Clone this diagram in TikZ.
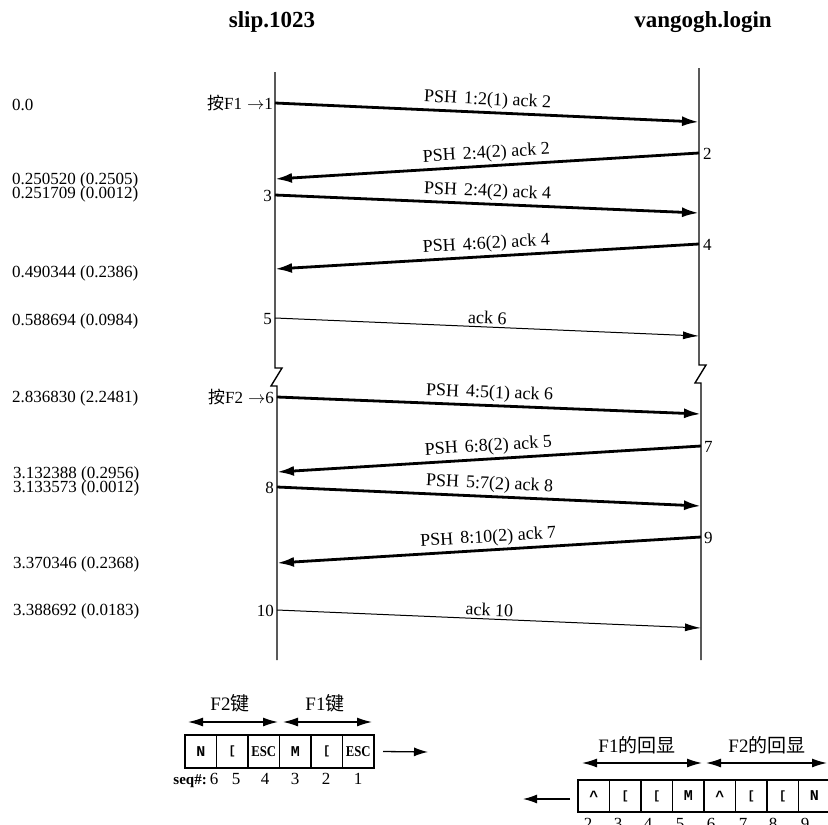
\documentclass[tikz,border=0pt]{standalone}
\usepackage{fontspec}
\usepackage{graphicx}
\setmainfont{Liberation Serif}
\newfontfamily\cjkfont{Noto Sans CJK SC}
\newfontfamily\monofont{Liberation Mono}
\usetikzlibrary{arrows.meta,positioning}
\begin{document}
\begin{tikzpicture}[x=1pt,y=-1pt,
  tline/.style={line width=1.4pt},
  bigmsg/.style={line width=2.8pt,-{Latex[length=17pt,width=10pt]}},
  smallmsg/.style={line width=1pt,-{Latex[length=16pt,width=8pt]}},
  msglab/.style={font=\fontsize{18}{18}\selectfont, sloped, above, inner sep=2.5pt, pos=0.5},
  ts/.style={anchor=base west, font=\fontsize{17}{17}\selectfont, inner sep=0pt},
  evl/.style={anchor=base east, font=\fontsize{17}{17}\selectfont, inner sep=0pt},
  evr/.style={anchor=base west, font=\fontsize{17}{17}\selectfont, inner sep=0pt},
  hdr/.style={font=\fontsize{23}{23}\selectfont\bfseries, inner sep=0pt},
  cell/.style={draw, line width=1.2pt, minimum width=31.5pt, inner sep=0pt, outer sep=0pt, anchor=west},
  cellL/.style={cell, minimum height=33pt},
  cellR/.style={cell, minimum height=32pt},
  esc/.style={font=\fontsize{15}{15}\selectfont\bfseries},
  mono/.style={font=\fontsize{15}{15}\selectfont\monofont\bfseries},
  brk/.style={font=\fontsize{12}{12}\selectfont\monofont\bfseries},
  dbl/.style={line width=1.3pt,{Latex[length=15pt,width=9pt]}-{Latex[length=15pt,width=9pt]}},
  outarr/.style={line width=1.3pt,-{Latex[length=14pt,width=9pt]}},
  blab/.style={font=\fontsize{19}{19}\selectfont, inner sep=0pt},
  bnum/.style={anchor=base, font=\fontsize{17}{17}\selectfont, inner sep=0pt},
]
\useasboundingbox (0,0) rectangle (828,825);
\clip (0,0) rectangle (828,825);

% headers
\node[hdr] (h1) at (272,22) {slip.1023};
\node[hdr] (h2) at (703,22) {vangogh.login};

% timelines
\coordinate (Ltop) at (275,72);
\coordinate (Lbot) at (277,660);
\coordinate (Rtop) at (699,68);
\coordinate (Rbot) at (701,660);
\draw[tline] (Ltop) -- (275,368) -- (282,368) -- (271,386) -- (277,386) -- (Lbot);
\draw[tline] (Rtop) -- (699,365) -- (706,365) -- (695,383) -- (701,383) -- (Rbot);

% event points
\coordinate (e1) at (275,103);  \coordinate (r1) at (699,122);
\coordinate (r2) at (699,153);  \coordinate (l2) at (275,179);
\coordinate (e3) at (275,195);  \coordinate (r3) at (699,213);
\coordinate (r4) at (699,244);  \coordinate (l4) at (275,269);
\coordinate (e5) at (275,318);  \coordinate (r5) at (699,336);
\coordinate (e6) at (277,397);  \coordinate (r6) at (701,414);
\coordinate (r7) at (701,446);  \coordinate (l7) at (277,472);
\coordinate (e8) at (277,487);  \coordinate (r8) at (701,506);
\coordinate (r9) at (701,537);  \coordinate (l9) at (277,563);
\coordinate (e10) at (277,610); \coordinate (r10) at (701,628);

% messages
\draw[bigmsg] (e1) -- node[msglab] (m1) {PSH\hspace{0.4em}1:2(1) ack 2} (r1);
\draw[bigmsg] (r2) -- node[msglab] (m2) {PSH\hspace{0.4em}2:4(2) ack 2} (l2);
\draw[bigmsg] (e3) -- node[msglab] (m3) {PSH\hspace{0.4em}2:4(2) ack 4} (r3);
\draw[bigmsg] (r4) -- node[msglab] (m4) {PSH\hspace{0.4em}4:6(2) ack 4} (l4);
\draw[smallmsg] (e5) -- node[msglab] (m5) {ack 6} (r5);
\draw[bigmsg] (e6) -- node[msglab] (m6) {PSH\hspace{0.4em}4:5(1) ack 6} (r6);
\draw[bigmsg] (r7) -- node[msglab] (m7) {PSH\hspace{0.4em}6:8(2) ack 5} (l7);
\draw[bigmsg] (e8) -- node[msglab] (m8) {PSH\hspace{0.4em}5:7(2) ack 8} (r8);
\draw[bigmsg] (r9) -- node[msglab] (m9) {PSH\hspace{0.4em}8:10(2) ack 7} (l9);
\draw[smallmsg] (e10) -- node[msglab] (m10) {ack 10} (r10);

% event numbers
\node[evl] (n1) at (273,109) {{\cjkfont 按}F1\hspace{5pt}$\rightarrow$1};
\node[evl] (n3) at (272,201) {3};
\node[evl] (n5) at (272,324) {5};
\node[evl] (n6) at (274,403) {{\cjkfont 按}F2\hspace{5pt}$\rightarrow$6};
\node[evl] (n8) at (274,493) {8};
\node[evl] (n10) at (274,616) {10};
\node[evr] (n2) at (703,159) {2};
\node[evr] (n4) at (703,250) {4};
\node[evr] (n7) at (704,452) {7};
\node[evr] (n9) at (704,543) {9};

% timestamps
\node[ts] (t1) at (12,110) {0.0};
\node[ts] (t2) at (12,184) {0.250520 (0.2505)};
\node[ts] (t3) at (12,198.5) {0.251709 (0.0012)};
\node[ts] (t4) at (12,277) {0.490344 (0.2386)};
\node[ts] (t5) at (12,325) {0.588694 (0.0984)};
\node[ts] (t6) at (12,402) {2.836830 (2.2481)};
\node[ts] (t7) at (13,478) {3.132388 (0.2956)};
\node[ts] (t8) at (13,492.5) {3.133573 (0.0012)};
\node[ts] (t9) at (13,568) {3.370346 (0.2368)};
\node[ts] (t10) at (13,615) {3.388692 (0.0183)};

% bottom left: keystrokes sent
\node[blab] (kf2) at (230,703) {F2{\cjkfont 键}};
\node[blab] (kf1) at (325,703) {F1{\cjkfont 键}};
\coordinate (a2s) at (188,722); \coordinate (a2e) at (278,722);
\coordinate (a1s) at (283,722); \coordinate (a1e) at (372,722);
\draw[dbl] (a2s) -- (a2e);
\draw[dbl] (a1s) -- (a1e);
\node[cellL] (c6) at (185,751.5) {};
\node[cellL, right=0pt of c6] (c5) {};
\node[cellL, right=0pt of c5] (c4) {};
\node[cellL, right=0pt of c4] (c3) {};
\node[cellL, right=0pt of c3] (c2) {};
\node[cellL, right=0pt of c2] (c1) {};
\node[mono] at (c6) {N};
\node[brk] at (c5) {[};
\node[esc] at (c4) {\scalebox{0.85}[1]{ESC}};
\node[mono] at (c3) {M};
\node[brk] at (c2) {[};
\node[esc] at (c1) {\scalebox{0.85}[1]{ESC}};
\coordinate (oL) at (428,752);
\draw[outarr] (c1.east) ++(9,0) coordinate (oLs) -- (oL);
\node[anchor=base east, font=\fontsize{15}{15}\selectfont\bfseries, inner sep=0pt] (seq) at (207,784) {seq\#:};
\node[bnum] (s6) at (214,784) {6};
\node[bnum] (s5) at (236,784) {5};
\node[bnum] (s4) at (265,784) {4};
\node[bnum] (s3) at (295,784) {3};
\node[bnum] (s2) at (326,784) {2};
\node[bnum] (s1) at (358,784) {1};

% bottom right: echoes received
\node[blab] (ef1) at (637,745) {F1{\cjkfont 的回显}};
\node[blab] (ef2) at (767,745) {F2{\cjkfont 的回显}};
\coordinate (b1s) at (582,763); \coordinate (b1e) at (702,763);
\coordinate (b2s) at (706,763); \coordinate (b2e) at (827,763);
\draw[dbl] (b1s) -- (b1e);
\draw[dbl] (b2s) -- (b2e);
\node[cellR] (d2) at (578,796) {};
\node[cellR, right=0pt of d2] (d3) {};
\node[cellR, right=0pt of d3] (d4) {};
\node[cellR, right=0pt of d4] (d5) {};
\node[cellR, right=0pt of d5] (d6) {};
\node[cellR, right=0pt of d6] (d7) {};
\node[cellR, right=0pt of d7] (d8) {};
\node[cellR, right=0pt of d8] (d9) {};
\node[mono] at (d2) {\^{}};
\node[brk] at (d3) {[};
\node[brk] at (d4) {[};
\node[mono] at (d5) {M};
\node[mono] at (d6) {\^{}};
\node[brk] at (d7) {[};
\node[brk] at (d8) {[};
\node[mono] at (d9) {N};
\coordinate (oR) at (523,799);
\draw[outarr] (d2.west) ++(-8,3) coordinate (oRs) -- (oR);
\node[bnum] (q2) at (588,829) {2};
\node[bnum] (q3) at (618,829) {3};
\node[bnum] (q4) at (648,829) {4};
\node[bnum] (q5) at (680,829) {5};
\node[bnum] (q6) at (711,829) {6};
\node[bnum] (q7) at (743,829) {7};
\node[bnum] (q8) at (773,829) {8};
\node[bnum] (q9) at (805,829) {9};
\end{tikzpicture}
\end{document}
